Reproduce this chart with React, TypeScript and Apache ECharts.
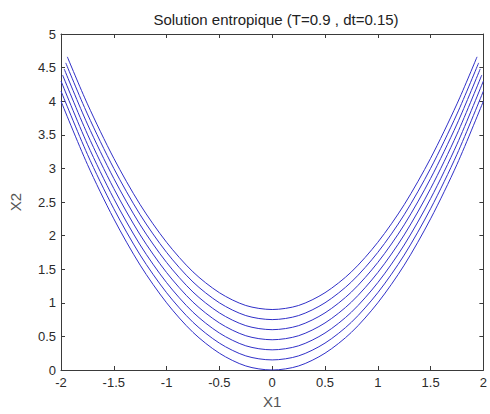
import React, { useEffect, useRef } from "react";
import * as echarts from "echarts";

// Front positions at successive times (T = 0.9, dt = 0.15)
const TIMES = ["0", "0.15", "0.3", "0.45", "0.6", "0.75", "0.9"];

// Shared interior abscissae
const X1 = [-1.75, -1.5, -1.25, -1, -0.75, -0.5, -0.25, 0, 0.25, 0.5, 0.75, 1, 1.25, 1.5, 1.75];

// X2 values on each front at the abscissae above
const X2_T0 = [3.06, 2.25, 1.56, 1.0, 0.56, 0.25, 0.06, 0.0, 0.06, 0.25, 0.56, 1.0, 1.56, 2.25, 3.06];
const X2_T1 = [3.21, 2.4, 1.71, 1.15, 0.71, 0.4, 0.21, 0.15, 0.21, 0.4, 0.71, 1.15, 1.71, 2.4, 3.21];
const X2_T2 = [3.36, 2.55, 1.86, 1.3, 0.86, 0.55, 0.36, 0.3, 0.36, 0.55, 0.86, 1.3, 1.86, 2.55, 3.36];
const X2_T3 = [3.51, 2.7, 2.01, 1.45, 1.01, 0.7, 0.51, 0.45, 0.51, 0.7, 1.01, 1.45, 2.01, 2.7, 3.51];
const X2_T4 = [3.66, 2.85, 2.16, 1.6, 1.16, 0.85, 0.66, 0.6, 0.66, 0.85, 1.16, 1.6, 2.16, 2.85, 3.66];
const X2_T5 = [3.81, 3.0, 2.31, 1.75, 1.31, 1.0, 0.81, 0.75, 0.81, 1.0, 1.31, 1.75, 2.31, 3.0, 3.81];
const X2_T6 = [3.96, 3.15, 2.46, 1.9, 1.46, 1.15, 0.96, 0.9, 0.96, 1.15, 1.46, 1.9, 2.46, 3.15, 3.96];
const X2_ALL = [X2_T0, X2_T1, X2_T2, X2_T3, X2_T4, X2_T5, X2_T6];

// End points of each front (symmetric in X1)
const END_X1 = [2.0, 2.0, 2.0, 1.985, 1.97, 1.955, 1.94];
const END_X2 = [4.0, 4.15, 4.3, 4.39, 4.48, 4.57, 4.66];

// Axis ranges and ticks
const X_MIN = -2, X_MAX = 2, X_STEP = 0.5;
const Y_MIN = 0, Y_MAX = 5, Y_STEP = 0.5;

const FONT = "'Liberation Sans', Arial, sans-serif";
const AXIS_COLOR = "#3a3a3a";
const LINE_COLOR = "#3030c8";

export default function App() {
  const ref = useRef<HTMLDivElement>(null);

  useEffect(() => {
    if (!ref.current) return;
    const chart = echarts.init(ref.current, null, { renderer: "svg" });

    const series = X2_ALL.map((vals, k) => ({
      name: "t=" + TIMES[k],
      type: "line",
      xAxisIndex: 0,
      yAxisIndex: 0,
      showSymbol: false,
      smooth: 0.3,
      lineStyle: { color: LINE_COLOR, width: 1 },
      data: [
        [-END_X1[k], END_X2[k]],
        ...X1.map((x, i) => [x, vals[i]]),
        [END_X1[k], END_X2[k]],
      ],
    }));

    const tickStyle = {
      show: true,
      inside: true,
      length: 4,
      lineStyle: { color: AXIS_COLOR, width: 1 },
    };
    const lineStyle = { show: true, onZero: false, lineStyle: { color: AXIS_COLOR, width: 1 } };
    const labelStyle = {
      color: "#2a2a2a",
      fontFamily: FONT,
      fontSize: 13,
    };

    chart.setOption({
      animation: false,
      backgroundColor: "#ffffff",
      title: {
        text: "Solution entropique (T=0.9 , dt=0.15)",
        left: 271,
        top: 7,
        textAlign: "center",
        textStyle: { color: "#222", fontFamily: FONT, fontSize: 15, fontWeight: "normal" },
      },
      grid: { left: 58, right: 3, top: 34, bottom: 42, containLabel: false },
      xAxis: [
        {
          type: "value",
          position: "bottom",
          min: X_MIN,
          max: X_MAX,
          interval: X_STEP,
          axisLine: lineStyle,
          axisTick: tickStyle,
          splitLine: { show: false },
          axisLabel: { ...labelStyle, margin: 6, showMaxLabel: true, showMinLabel: true },
          name: "X1",
          nameLocation: "middle",
          nameGap: 24,
          nameTextStyle: { color: "#555", fontFamily: FONT, fontSize: 15 },
        },
        {
          type: "value",
          position: "top",
          min: X_MIN,
          max: X_MAX,
          interval: X_STEP,
          axisLine: lineStyle,
          axisTick: tickStyle,
          splitLine: { show: false },
          axisLabel: { show: false },
        },
      ],
      yAxis: [
        {
          type: "value",
          position: "left",
          min: Y_MIN,
          max: Y_MAX,
          interval: Y_STEP,
          axisLine: lineStyle,
          axisTick: tickStyle,
          splitLine: { show: false },
          axisLabel: { ...labelStyle, margin: 5 },
          name: "X2",
          nameLocation: "middle",
          nameGap: 38,
          nameTextStyle: { color: "#555", fontFamily: FONT, fontSize: 15 },
        },
        {
          type: "value",
          position: "right",
          min: Y_MIN,
          max: Y_MAX,
          interval: Y_STEP,
          axisLine: lineStyle,
          axisTick: tickStyle,
          splitLine: { show: false },
          axisLabel: { show: false },
        },
      ],
      series,
    });

    return () => chart.dispose();
  }, []);

  return (
    <div
      ref={ref}
      style={{ position: "fixed", left: 0, top: 0, width: 490, height: 414, background: "#fff" }}
    />
  );
}
